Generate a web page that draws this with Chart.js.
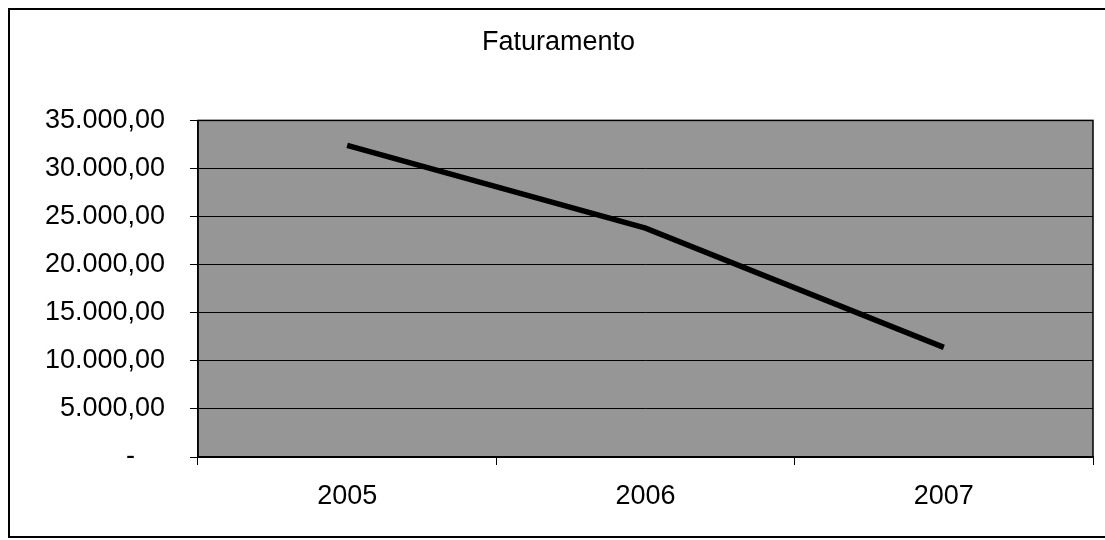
<!DOCTYPE html>
<html>
<head>
<meta charset="utf-8">
<script src="https://cdn.jsdelivr.net/npm/chart.js@4/dist/chart.umd.min.js"></script>
<style>
  html, body { margin: 0; padding: 0; background: #ffffff; }
  #wrap { position: relative; width: 1105px; height: 540px; }
  canvas { display: block; }
</style>
</head>
<body>
<div id="wrap"><canvas id="c" width="1105" height="540"></canvas></div>
<script>
const categories = ['2005', '2006', '2007'];
const faturamento = [32400, 23800, 11400];
const yTickValues = [0, 5000, 10000, 15000, 20000, 25000, 30000, 35000];
const chartTitle = 'Faturamento';

const FONT = "'Liberation Sans', Arial, sans-serif";

function fmt(v) {
  if (v === 0) return '-    ';
  const s = Math.round(v).toString().replace(/\B(?=(\d{3})+(?!\d))/g, '.');
  return s + ',00';
}

const framePlugin = {
  id: 'frame',
  beforeDraw(chart) {
    const { ctx, chartArea: a } = chart;
    ctx.save();
    ctx.fillStyle = '#ffffff';
    ctx.fillRect(0, 0, chart.width, chart.height);
    ctx.fillStyle = '#969696';
    ctx.fillRect(a.left, a.top, a.right - a.left, a.bottom - a.top);
    ctx.restore();
  },
  afterDraw(chart) {
    const { ctx, chartArea: a } = chart;
    ctx.save();
    ctx.strokeStyle = '#000000';
    ctx.lineWidth = 2;
    ctx.beginPath();
    ctx.moveTo(1110, 9);
    ctx.lineTo(9, 9);
    ctx.lineTo(9, 537);
    ctx.lineTo(1110, 537);
    ctx.stroke();
    ctx.lineWidth = 1.5;
    ctx.strokeRect(a.left, a.top, a.right - a.left, a.bottom - a.top);
    ctx.restore();
  }
};

new Chart(document.getElementById('c'), {
  type: 'line',
  data: {
    labels: categories,
    datasets: [{
      label: chartTitle,
      data: faturamento,
      borderColor: '#000000',
      borderWidth: 5.5,
      pointRadius: 0,
      tension: 0,
      fill: false
    }]
  },
  options: {
    responsive: false,
    animation: false,
    devicePixelRatio: 1,
    layout: { padding: { left: 24, right: 12, top: 0, bottom: 0 } },
    plugins: {
      legend: { display: false },
      tooltip: { enabled: false },
      title: {
        display: true,
        text: chartTitle,
        color: '#000000',
        font: { family: FONT, size: 27, weight: 'normal' },
        padding: { top: 26, bottom: 62 }
      }
    },
    scales: {
      x: {
        offset: true,
        grid: {
          offset: true,
          drawOnChartArea: false,
          drawTicks: true,
          tickLength: 8,
          color: '#000000',
          lineWidth: 1
        },
        border: { display: true, color: '#000000', width: 1.5 },
        ticks: {
          color: '#000000',
          font: { family: FONT, size: 27 },
          padding: 15,
          maxRotation: 0
        },
        afterFit(scale) { scale.height = 83; }
      },
      y: {
        min: 0,
        max: 35000,
        afterBuildTicks(scale) { scale.ticks = yTickValues.map(v => ({ value: v })); },
        grid: {
          color: '#000000',
          lineWidth: 1,
          drawTicks: true,
          tickLength: 8
        },
        border: { display: true, color: '#000000', width: 1.5 },
        ticks: {
          color: '#000000',
          font: { family: FONT, size: 27 },
          padding: 25,
          callback: (v) => fmt(v)
        },
        afterFit(scale) { scale.width = 174; }
      }
    }
  },
  plugins: [framePlugin]
});
</script>
</body>
</html>
